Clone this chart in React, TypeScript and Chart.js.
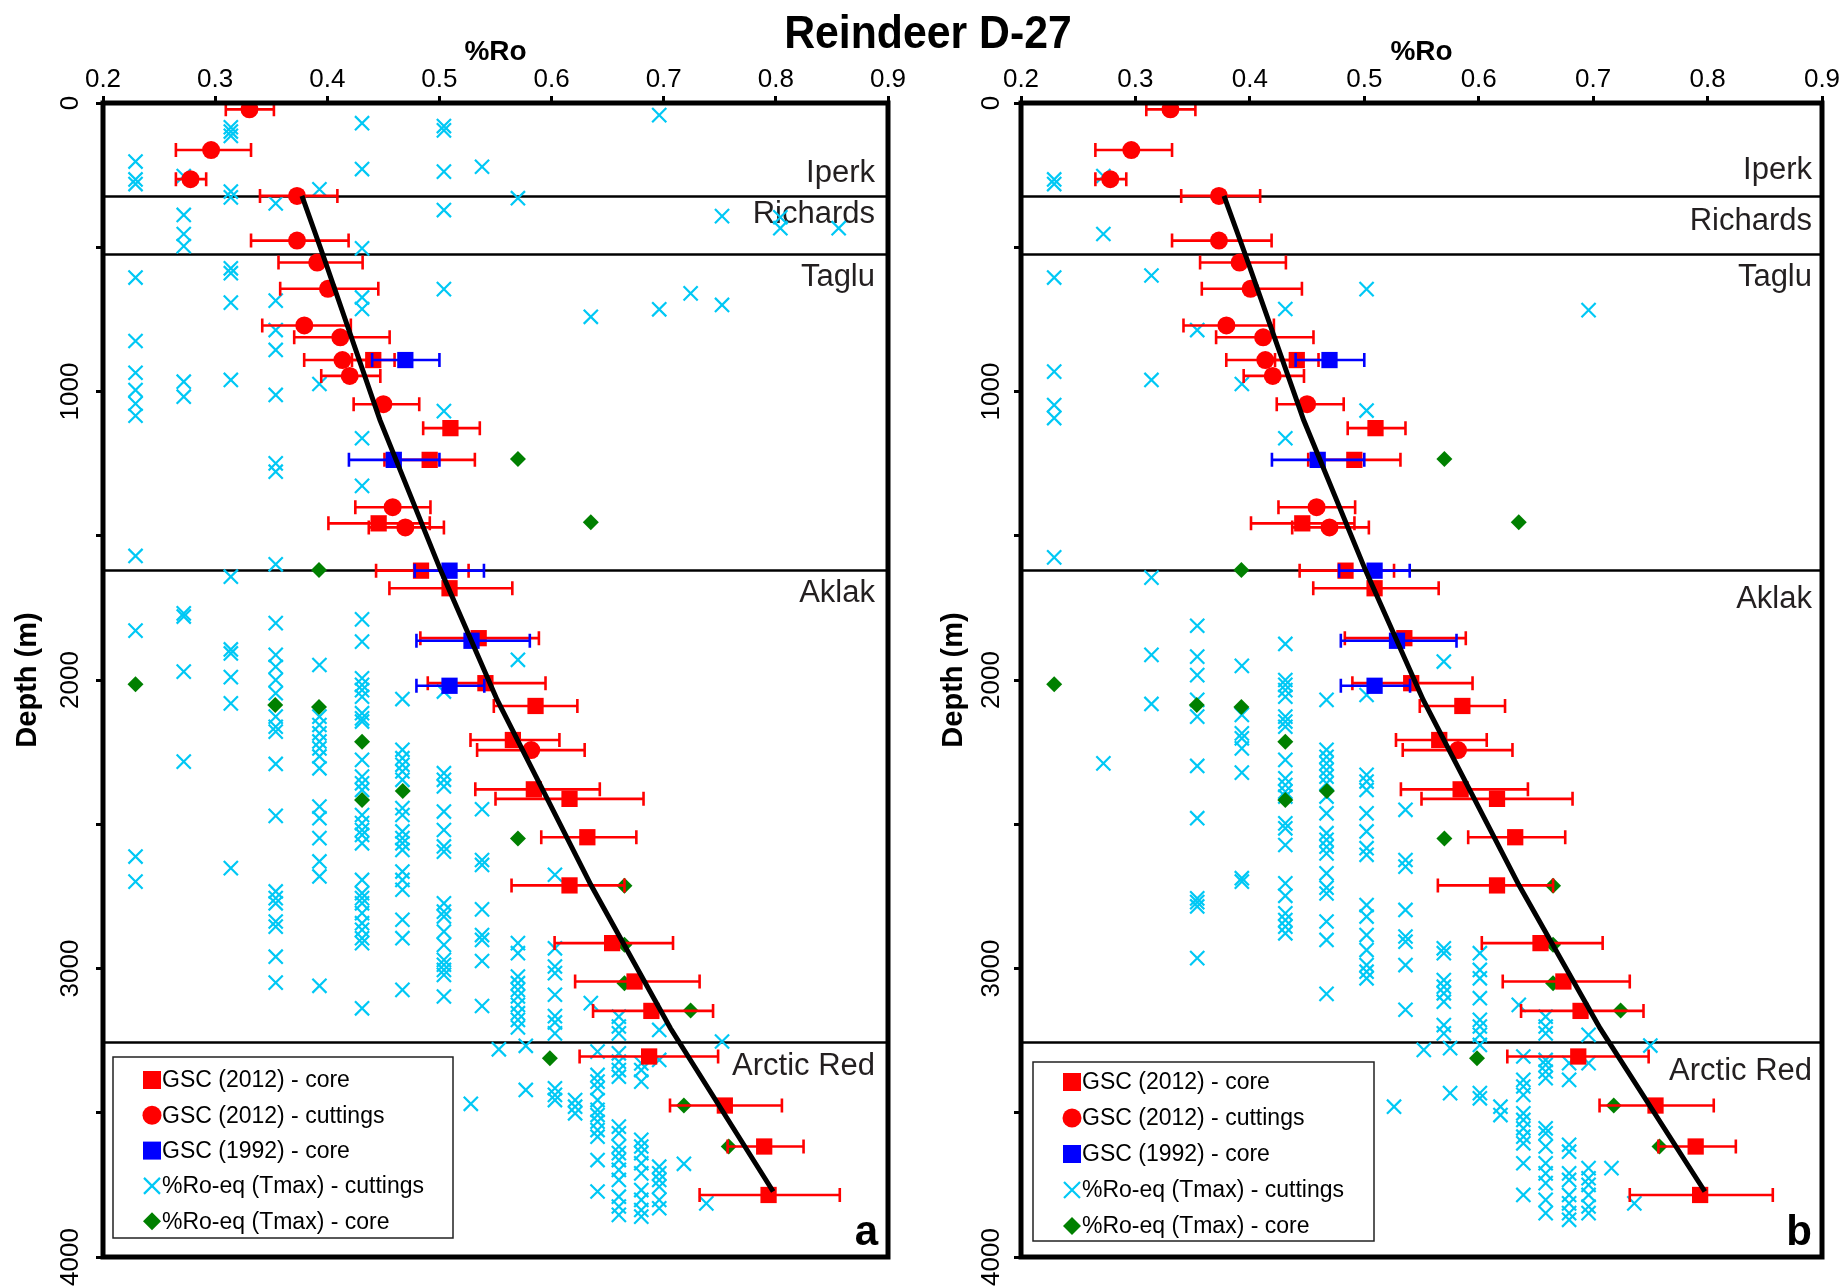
import React, { useEffect, useRef } from 'react';
import { Chart, registerables } from 'chart.js';

Chart.register(...registerables);

// ---------------- data ----------------
const xTickValues = [0.2, 0.3, 0.4, 0.5, 0.6, 0.7, 0.8, 0.9];
const depthTickMarks = [0, 500, 1000, 1500, 2000, 2500, 3000, 3500, 4000];
const depthTickLabels = [0, 1000, 2000, 3000, 4000];
const formationNames = ['Iperk', 'Richards', 'Taglu', 'Aklak', 'Arctic Red'];
const formationBoundaries = [322, 524, 1619, 3256];

// [Ro, depth, error low, error high]
const gsc2012Core: number[][] = [
  [0.441, 891, 0.422, 0.46], [0.5098, 1127, 0.4855, 0.536], [0.4913, 1237, 0.451, 0.5316],
  [0.4458, 1457, 0.401, 0.4914], [0.4836, 1621, 0.4435, 0.526], [0.509, 1682, 0.4554, 0.565],
  [0.535, 1855, 0.483, 0.5887], [0.541, 2011, 0.4896, 0.5946], [0.5857, 2090, 0.5485, 0.623],
  [0.5655, 2208, 0.5277, 0.607], [0.5842, 2379, 0.532, 0.643], [0.616, 2412, 0.55, 0.682],
  [0.6319, 2545, 0.5908, 0.6756], [0.616, 2712, 0.5643, 0.665], [0.654, 2912, 0.6027, 0.7083],
  [0.674, 3045, 0.621, 0.732], [0.689, 3147, 0.637, 0.744], [0.687, 3305, 0.625, 0.7485],
  [0.7545, 3475, 0.7056, 0.8054], [0.7896, 3617, 0.757, 0.8247], [0.7935, 3785, 0.732, 0.857],
];
const gsc2012Cuttings: number[][] = [
  [0.3306, 22, 0.3095, 0.3524], [0.2964, 163, 0.265, 0.332], [0.278, 264, 0.265, 0.292],
  [0.373, 322, 0.34, 0.409], [0.373, 477, 0.332, 0.419], [0.391, 553, 0.3565, 0.4315],
  [0.4006, 644, 0.358, 0.4455], [0.3795, 771, 0.342, 0.421], [0.4116, 812, 0.3705, 0.4556],
  [0.4135, 891, 0.3794, 0.4415], [0.42, 946, 0.3946, 0.4473], [0.45, 1044, 0.4235, 0.482],
  [0.4583, 1401, 0.425, 0.492], [0.4696, 1471, 0.437, 0.504], [0.5819, 2243, 0.5336, 0.6295],
];
const gsc1992Core: number[][] = [
  [0.4696, 891, 0.44, 0.5], [0.4593, 1237, 0.4193, 0.5], [0.509, 1621, 0.478, 0.5397],
  [0.5286, 1864, 0.4795, 0.5806], [0.509, 2020, 0.4795, 0.54],
];
const tmaxCore: number[][] = [
  [0.57, 1234], [0.635, 1453], [0.3926, 1619], [0.229, 2015], [0.3536, 2087], [0.3926, 2094],
  [0.431, 2214], [0.4673, 2385], [0.431, 2416], [0.57, 2549], [0.665, 2713], [0.665, 2918],
  [0.665, 3051], [0.724, 3146], [0.5985, 3311], [0.718, 3475], [0.758, 3617],
];
const trendLine: number[][] = [
  [0.3774, 322], [0.3967, 533], [0.447, 1099], [0.501, 1619], [0.5515, 2069],
  [0.635, 2710], [0.706, 3207], [0.7976, 3773],
];
// %Ro-eq (Tmax) cuttings: [Ro, depths...] — panel a (all samples)
const tmaxCuttingsA: [number, number[]][] = [
  [0.229, [203, 265, 281, 605, 825, 935, 995, 1042, 1084, 1570, 1829, 2612, 2699]],
  [0.272, [253, 388, 454, 496, 966, 1018, 1769, 1780, 1971, 2283]],
  [0.314, [84, 99, 114, 307, 327, 573, 590, 692, 960, 1642, 1894, 1908, 1990, 2081, 2652]],
  [0.354, [348, 685, 787, 856, 1012, 1249, 1278, 1599, 1803, 1913, 1954, 2000, 2046, 2127, 2162, 2179, 2291, 2471, 2733, 2756, 2774, 2837, 2855, 2959, 3049]],
  [0.393, [299, 974, 1948, 2127, 2156, 2185, 2213, 2237, 2265, 2306, 2439, 2479, 2548, 2629, 2681, 3060]],
  [0.431, [70, 229, 504, 674, 714, 1162, 1327, 1790, 1867, 1994, 2017, 2035, 2058, 2115, 2133, 2144, 2277, 2335, 2358, 2381, 2468, 2496, 2520, 2537, 2566, 2693, 2739, 2756, 2774, 2808, 2843, 2866, 2895, 2912, 3138]],
  [0.467, [2066, 2242, 2271, 2294, 2317, 2346, 2444, 2468, 2525, 2548, 2566, 2589, 2664, 2693, 2727, 2831, 2895, 3074]],
  [0.504, [80, 95, 238, 371, 645, 1068, 2040, 2323, 2346, 2369, 2456, 2520, 2577, 2595, 2774, 2803, 2820, 2872, 2918, 2970, 2987, 3005, 3022, 3097]],
  [0.528, [3469]],
  [0.538, [221, 2448, 2624, 2641, 2795, 2884, 2901, 2974, 3130]],
  [0.553, [3280]],
  [0.57, [330, 1930, 2912, 2947, 3028, 3051, 3074, 3097, 3126, 3155, 3178, 3204]],
  [0.577, [3268, 3421]],
  [0.603, [2675, 2930, 2993, 3016, 3091, 3165, 3187, 3225, 3415, 3438, 3456]],
  [0.621, [3456, 3479, 3502]],
  [0.635, [741, 3120]],
  [0.641, [3288, 3369, 3392, 3415, 3456, 3490, 3508, 3531, 3560, 3583, 3664, 3773]],
  [0.66, [3167, 3201, 3225, 3294, 3323, 3352, 3375, 3548, 3571, 3617, 3640, 3664, 3698, 3733, 3791, 3825, 3854]],
  [0.68, [3329, 3352, 3392, 3594, 3617, 3640, 3675, 3710, 3768, 3802, 3837, 3860]],
  [0.696, [42, 715, 3213, 3317, 3687, 3710, 3733, 3756, 3802, 3831]],
  [0.718, [3677]],
  [0.724, [660]],
  [0.738, [3814]],
  [0.752, [392, 700, 3253]],
  [0.804, [396, 434]],
  [0.856, [434]],
];
// panel b (screened samples)
const tmaxCuttingsB: [number, number[]][] = [
  [0.229, [265, 281, 605, 931, 1047, 1092, 1575]],
  [0.272, [253, 454, 2289]],
  [0.314, [598, 960, 1645, 1913, 2083]],
  [0.354, [787, 1812, 1919, 1983, 2069, 2127, 2298, 2479, 2757, 2770, 2785, 2964]],
  [0.393, [974, 1951, 2121, 2185, 2202, 2237, 2321, 2687, 2699]],
  [0.431, [714, 1162, 1875, 2000, 2017, 2035, 2058, 2127, 2144, 2162, 2277, 2341, 2364, 2387, 2404, 2497, 2514, 2572, 2705, 2748, 2809, 2832, 2855, 2878]],
  [0.467, [2069, 2242, 2266, 2289, 2312, 2335, 2358, 2404, 2462, 2531, 2554, 2578, 2601, 2670, 2720, 2740, 2837, 2901, 3088]],
  [0.502, [645, 1066, 2052, 2329, 2352, 2381, 2462, 2525, 2583, 2606, 2780, 2820, 2884, 2936, 2988, 3011, 3034]],
  [0.526, [3479]],
  [0.536, [2450, 2624, 2647, 2797, 2889, 2907, 2988, 3143]],
  [0.552, [3282]],
  [0.5695, [1936, 2930, 2947, 3040, 3063, 3086, 3115, 3196, 3225]],
  [0.575, [3276, 3432]],
  [0.601, [2947, 3005, 3034, 3103, 3178, 3201, 3230, 3265, 3432, 3450]],
  [0.619, [3479, 3508]],
  [0.635, [3126]],
  [0.639, [3305, 3386, 3409, 3438, 3502, 3525, 3554, 3583, 3606, 3675, 3785]],
  [0.6585, [3167, 3201, 3225, 3317, 3334, 3357, 3380, 3554, 3571, 3617, 3675, 3710, 3744, 3802, 3848]],
  [0.679, [3328, 3386, 3611, 3635, 3710, 3733, 3785, 3814, 3848, 3871]],
  [0.696, [718, 3230, 3328, 3692, 3727, 3750, 3785, 3825, 3848]],
  [0.716, [3692]],
  [0.736, [3814]],
  [0.75, [3267]],
];

// ---------------- styling ----------------
const RED = '#ff0000';
const BLUE = '#0000ff';
const CYAN = '#00c8f5';
const GREEN = '#008000';
const SANS = '"Liberation Sans", Arial, Helvetica, sans-serif';

function fontAvailable(name: string) {
  const ctx = document.createElement('canvas').getContext('2d')!;
  const probe = 'mmmwwwlli 0.123456789 %Ro';
  ctx.font = '40px monospace';
  const a = ctx.measureText(probe).width;
  ctx.font = '40px serif';
  const b = ctx.measureText(probe).width;
  ctx.font = `40px "${name}", monospace`;
  const c = ctx.measureText(probe).width;
  ctx.font = `40px "${name}", serif`;
  const d = ctx.measureText(probe).width;
  return a !== c || b !== d;
}

type Panel = {
  letter: string;
  left: number;
  width: number;
  padRight: number;
  yAxisWidth: number;
  yTitlePad: number;
  yLabelX: number;
  labelDepths: number[];
  labelInset: number;
  legendLeft: number;
  legendTop: number;
  legendW: number;
  legendH: number;
  legendRow0: number;
  legendRowGap: number;
  tmax: [number, number[]][];
};

const panels: Panel[] = [
  {
    letter: 'a', left: 0, width: 920, padRight: 32, yAxisWidth: 103, yTitlePad: 11, yLabelX: 71,
    labelDepths: [274, 416, 634, 1729, 3369], labelInset: 13,
    legendLeft: 10, legendTop: 200, legendW: 340, legendH: 181, legendRow0: 23, legendRowGap: 35.3,
    tmax: tmaxCuttingsA,
  },
  {
    letter: 'b', left: 920, width: 925, padRight: 23, yAxisWidth: 101, yTitlePad: 17, yLabelX: 72,
    labelDepths: [262, 440, 634, 1750, 3386], labelInset: 10,
    legendLeft: 12, legendTop: 195, legendW: 341, legendH: 179, legendRow0: 20, legendRowGap: 36,
    tmax: tmaxCuttingsB,
  },
];

const toPts = (rows: number[][]) => rows.map((r) => ({ x: r[0], y: r[1] }));
const groupPts = (groups: [number, number[]][]) =>
  groups.flatMap(([ro, depths]) => depths.map((d) => ({ x: ro, y: d })));

function drawMarker(ctx: CanvasRenderingContext2D, shape: string, x: number, y: number, color: string) {
  ctx.save();
  ctx.fillStyle = color;
  ctx.strokeStyle = color;
  ctx.beginPath();
  if (shape === 'rect') {
    ctx.rect(x - 9, y - 9, 18, 18);
    ctx.fill();
  } else if (shape === 'circle') {
    ctx.arc(x, y, 9.5, 0, Math.PI * 2);
    ctx.fill();
  } else if (shape === 'crossRot') {
    ctx.lineWidth = 2.2;
    ctx.moveTo(x - 8, y - 8); ctx.lineTo(x + 8, y + 8);
    ctx.moveTo(x + 8, y - 8); ctx.lineTo(x - 8, y + 8);
    ctx.stroke();
  } else if (shape === 'rectRot') {
    ctx.moveTo(x, y - 9); ctx.lineTo(x + 9, y); ctx.lineTo(x, y + 9); ctx.lineTo(x - 9, y);
    ctx.closePath();
    ctx.fill();
  }
  ctx.restore();
}

function makeOverlay(p: Panel, tickFont: string) {
  return {
    id: 'overlay',
    beforeDatasetsDraw(chart: any) {
      const { ctx, chartArea: a, scales } = chart;
      const y = scales.y;
      ctx.save();
      ctx.strokeStyle = '#000';
      ctx.lineWidth = 2.3;
      formationBoundaries.forEach((d) => {
        const py = Math.round(y.getPixelForValue(d)) + 0.5;
        ctx.beginPath();
        ctx.moveTo(a.left, py);
        ctx.lineTo(a.right, py);
        ctx.stroke();
      });
      ctx.fillStyle = '#231f20';
      ctx.font = `31px ${SANS}`;
      ctx.textAlign = 'right';
      ctx.textBaseline = 'alphabetic';
      formationNames.forEach((n, i) => {
        ctx.fillText(n, a.right - p.labelInset, y.getPixelForValue(p.labelDepths[i]));
      });
      ctx.restore();
    },
    beforeDatasetDraw(chart: any, args: any) {
      const ds = chart.data.datasets[args.index];
      if (!ds.errorBars) return;
      const { ctx, scales } = chart;
      const x = scales.x;
      const y = scales.y;
      ctx.save();
      ctx.strokeStyle = ds.errorColor;
      ctx.lineWidth = 2.6;
      ds.errorBars.forEach((e: number[], i: number) => {
        const py = y.getPixelForValue(ds.data[i].y);
        const x1 = x.getPixelForValue(e[0]);
        const x2 = x.getPixelForValue(e[1]);
        ctx.beginPath();
        ctx.moveTo(x1, py); ctx.lineTo(x2, py);
        ctx.moveTo(x1, py - 7); ctx.lineTo(x1, py + 7);
        ctx.moveTo(x2, py - 7); ctx.lineTo(x2, py + 7);
        ctx.stroke();
      });
      ctx.restore();
    },
    afterDatasetsDraw(chart: any) {
      const { ctx, chartArea: a, scales } = chart;
      const y = scales.y;
      ctx.save();
      // frame
      ctx.strokeStyle = '#000';
      ctx.lineWidth = 5;
      ctx.strokeRect(a.left, a.top, a.right - a.left, a.bottom - a.top);
      // rotated depth labels
      ctx.fillStyle = '#000';
      ctx.font = tickFont;
      ctx.textAlign = 'center';
      ctx.textBaseline = 'middle';
      depthTickLabels.forEach((v) => {
        ctx.save();
        ctx.translate(p.yLabelX, y.getPixelForValue(v));
        ctx.rotate(-Math.PI / 2);
        ctx.fillText(String(v), 0, 0);
        ctx.restore();
      });
      // legend
      const lx = a.left + p.legendLeft;
      const ly = a.bottom - p.legendTop;
      ctx.fillStyle = '#fff';
      ctx.fillRect(lx, ly, p.legendW, p.legendH);
      ctx.lineWidth = 1.5;
      ctx.strokeStyle = '#222';
      ctx.strokeRect(lx, ly, p.legendW, p.legendH);
      const items = chart.data.datasets
        .filter((d: any) => d.legendRank !== undefined)
        .sort((u: any, v: any) => u.legendRank - v.legendRank);
      ctx.font = `23px ${SANS}`;
      ctx.textAlign = 'left';
      ctx.textBaseline = 'middle';
      items.forEach((d: any, i: number) => {
        const cy = ly + p.legendRow0 + i * p.legendRowGap;
        drawMarker(ctx, d.pointStyle, lx + 39, cy, d.backgroundColor);
        ctx.fillStyle = '#000';
        ctx.fillText(d.label, lx + 49, cy + 1);
      });
      // panel letter
      ctx.font = `bold 42px ${SANS}`;
      ctx.textAlign = 'right';
      ctx.textBaseline = 'alphabetic';
      ctx.fillStyle = '#000';
      ctx.fillText(p.letter, a.right - 10, a.bottom - 12);
      ctx.restore();
    },
  };
}

function PanelChart({ p }: { p: Panel }) {
  const ref = useRef<HTMLCanvasElement | null>(null);
  useEffect(() => {
    const narrow = fontAvailable('Liberation Sans Narrow');
    const tickFamily = narrow ? '"Liberation Sans Narrow", ' + SANS : SANS;
    const tickSize = narrow ? 30 : 26;
    const titleSize = narrow ? 32 : 28;
    const tickFont = `${tickSize}px ${tickFamily}`;

    const datasets: any[] = [
      {
        label: 'trend', data: toPts(trendLine), showLine: true, borderColor: '#000', borderWidth: 5,
        pointRadius: 0, fill: false, order: 0,
      },
      {
        label: 'GSC (1992) - core', data: toPts(gsc1992Core), pointStyle: 'rect', pointRadius: 11.5,
        backgroundColor: BLUE, borderColor: BLUE, borderWidth: 0, order: 1,
        errorBars: gsc1992Core.map((r) => [r[2], r[3]]), errorColor: BLUE, legendRank: 2,
      },
      {
        label: 'GSC (2012) - core', data: toPts(gsc2012Core), pointStyle: 'rect', pointRadius: 11.5,
        backgroundColor: RED, borderColor: RED, borderWidth: 0, order: 2,
        errorBars: gsc2012Core.map((r) => [r[2], r[3]]), errorColor: RED, legendRank: 0,
      },
      {
        label: 'GSC (2012) - cuttings', data: toPts(gsc2012Cuttings), pointStyle: 'circle', pointRadius: 9,
        backgroundColor: RED, borderColor: RED, borderWidth: 0, order: 3,
        errorBars: gsc2012Cuttings.map((r) => [r[2], r[3]]), errorColor: RED, legendRank: 1,
      },
      {
        label: '%Ro-eq (Tmax) - core', data: toPts(tmaxCore), pointStyle: 'rectRot', pointRadius: 8,
        backgroundColor: GREEN, borderColor: GREEN, borderWidth: 0, order: 4, legendRank: 4,
      },
      {
        label: '%Ro-eq (Tmax) - cuttings', data: groupPts(p.tmax), pointStyle: 'crossRot', pointRadius: 10,
        backgroundColor: CYAN, borderColor: CYAN, borderWidth: 2.2, order: 5, legendRank: 3,
      },
    ];

    const chart = new Chart(ref.current as HTMLCanvasElement, {
      type: 'scatter',
      data: { datasets },
      options: {
        responsive: false,
        animation: false,
        events: [],
        layout: { padding: { left: 0, top: 0, right: p.padRight, bottom: 29 } },
        plugins: { legend: { display: false }, tooltip: { enabled: false } },
        scales: {
          x: {
            type: 'linear', position: 'top', min: 0.2, max: 0.9,
            afterBuildTicks: (s: any) => { s.ticks = xTickValues.map((v) => ({ value: v })); },
            afterFit: (s: any) => { s.height = 103; },
            ticks: {
              color: '#000', padding: 1, maxRotation: 0, autoSkip: false,
              font: { family: tickFamily, size: tickSize },
              callback: (v: any) => Number(v).toFixed(1),
            },
            grid: { display: true, drawOnChartArea: false, drawTicks: true, tickLength: 7, color: '#000', lineWidth: 3 },
            border: { display: false },
            title: {
              display: true, text: '%Ro', color: '#000',
              font: { family: tickFamily, size: titleSize, weight: 'bold' },
              padding: { top: 35, bottom: 0 },
            },
          },
          y: {
            type: 'linear', position: 'left', reverse: true, min: 0, max: 4000,
            afterBuildTicks: (s: any) => { s.ticks = depthTickMarks.map((v) => ({ value: v })); },
            afterFit: (s: any) => { s.width = p.yAxisWidth; },
            ticks: { display: false },
            grid: { display: true, drawOnChartArea: false, drawTicks: true, tickLength: 7, color: '#000', lineWidth: 3 },
            border: { display: false },
            title: {
              display: true, text: 'Depth (m)', color: '#000',
              font: { family: SANS, size: 29, weight: 'bold' },
              padding: { top: p.yTitlePad, bottom: 0 },
            },
          },
        },
      } as any,
      plugins: [makeOverlay(p, tickFont)],
    });
    return () => chart.destroy();
  }, [p]);

  return (
    <canvas
      ref={ref}
      width={p.width}
      height={1286}
      style={{ position: 'absolute', left: p.left, top: 0, width: p.width, height: 1286 }}
    />
  );
}

export default function App() {
  return (
    <div style={{ position: 'absolute', left: 0, top: 0, width: 1845, height: 1286, background: '#fff', overflow: 'hidden' }}>
      {panels.map((p) => (
        <PanelChart key={p.letter} p={p} />
      ))}
      <div
        style={{
          position: 'absolute', left: 0, top: 9, width: 1856, textAlign: 'center',
          fontFamily: SANS, fontWeight: 'bold', fontSize: 46, lineHeight: '46px', color: '#000',
          transform: 'scaleX(0.93)', transformOrigin: '928px 0', zIndex: 2,
        }}
      >
        Reindeer D-27
      </div>
    </div>
  );
}
